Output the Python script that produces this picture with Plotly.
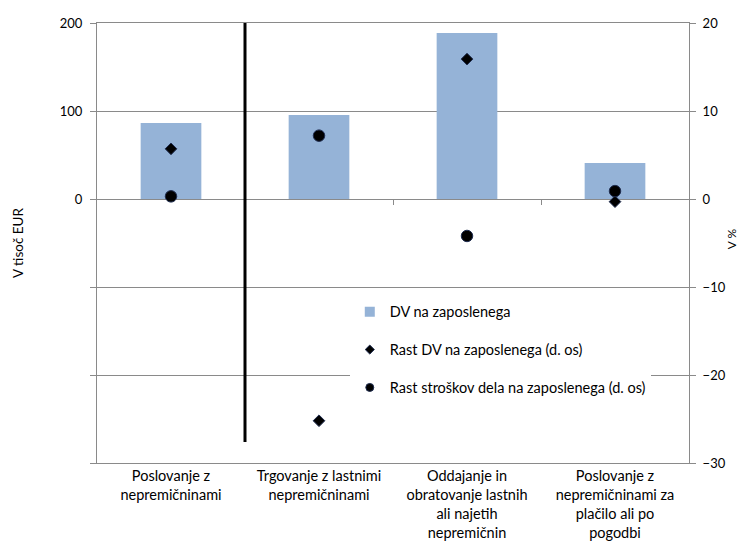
import plotly.graph_objects as go

categories = [
    "Poslovanje z<br>nepremičninami",
    "Trgovanje z lastnimi<br>nepremičninami",
    "Oddajanje in<br>obratovanje lastnih<br>ali najetih<br>nepremičnin",
    "Poslovanje z<br>nepremičninami za<br>plačilo ali po<br>pogodbi",
]
dv_na_zaposlenega = [86.5, 95.5, 188.5, 41]
rast_dv = [5.7, -25.2, 15.9, -0.3]
rast_stroskov = [0.3, 7.2, -4.2, 0.9]

left_ticks = [-300, -200, -100, 0, 100, 200]
left_labels = ["", "", "", "0", "100", "200"]
right_ticks = [-30, -20, -10, 0, 10, 20]
boundary_ticks = [0.5, 1.5, 2.5]

names = ["DV na zaposlenega", "Rast DV na zaposlenega (d. os)",
         "Rast stroškov dela na zaposlenega (d. os)"]

FONT = "Lato, 'Open Sans', sans-serif"
GRID = "#8a8a8a"
BAR = "#95B3D7"
MK_LINE = "#1F2D50"

fig = go.Figure()
fig.add_trace(go.Bar(
    x=categories, y=dv_na_zaposlenega, name=names[0],
    marker=dict(color=BAR, line=dict(width=0)), width=0.41,
    showlegend=False, yaxis="y",
))
fig.add_trace(go.Scatter(
    x=categories, y=rast_dv, name=names[1],
    mode="markers", marker=dict(symbol="diamond", size=9, color="#000000",
                                line=dict(color=MK_LINE, width=1)),
    showlegend=False, yaxis="y2",
))
fig.add_trace(go.Scatter(
    x=categories, y=rast_stroskov, name=names[2],
    mode="markers", marker=dict(symbol="circle", size=11.5, color="#000000",
                                line=dict(color=MK_LINE, width=1)),
    showlegend=False, yaxis="y2",
))

# legend entries (smaller symbols, as in the original legend)
fig.add_trace(go.Scatter(x=[None], y=[None], name=names[0], mode="markers",
                         marker=dict(symbol="square", size=10, color=BAR),
                         legendgroup="a", hoverinfo="skip"))
fig.add_trace(go.Scatter(x=[None], y=[None], name=names[1], mode="markers",
                         marker=dict(symbol="diamond", size=7, color="#000000",
                                     line=dict(color=MK_LINE, width=1)),
                         legendgroup="b", hoverinfo="skip"))
fig.add_trace(go.Scatter(x=[None], y=[None], name=names[2], mode="markers",
                         marker=dict(symbol="circle", size=8, color="#000000",
                                     line=dict(color=MK_LINE, width=1)),
                         legendgroup="c", hoverinfo="skip"))

# transparent trace attached to a second x-axis drawn on the zero line (category boundary ticks)
fig.add_trace(go.Scatter(x=list(range(len(categories))), y=[0] * len(categories),
                         xaxis="x2", yaxis="y", mode="markers",
                         marker=dict(opacity=0), showlegend=False, hoverinfo="skip"))

fig.add_shape(type="line", xref="x", yref="y", x0=0.5, x1=0.5, y0=200, y1=-276,
              line=dict(color="black", width=3))

fig.add_annotation(text="V tisoč EUR", xref="paper", yref="paper", x=-0.1334, y=0.5,
                   xanchor="center", yanchor="middle",
                   textangle=-90, showarrow=False, font=dict(size=13.5))
fig.add_annotation(text="V %", xref="paper", yref="paper", x=1.072, y=0.51,
                   xanchor="center", yanchor="middle",
                   textangle=-90, showarrow=False, font=dict(size=12))

fig.update_layout(
    width=739, height=542,
    margin=dict(l=89, r=58, t=15, b=87),
    paper_bgcolor="white", plot_bgcolor="white",
    font=dict(family=FONT, size=13, color="#000000"),
    showlegend=True,
    legend=dict(x=0.427, y=0.38, xanchor="left", yanchor="top",
                bgcolor="white", font=dict(size=14.5, family=FONT),
                traceorder="grouped", tracegroupgap=16, itemwidth=30),
    xaxis=dict(showgrid=False, showline=True, linecolor=GRID, mirror=True,
               ticks="", tickfont=dict(size=14.5), tickangle=0,
               range=[-0.5, 3.5], automargin=False),
    xaxis2=dict(overlaying="x", anchor="free", position=0.6, type="linear",
                range=[-0.5, 3.5], tickvals=boundary_ticks,
                showgrid=False, showline=False, showticklabels=False,
                zeroline=False, ticks="outside", ticklen=5, tickcolor=GRID,
                automargin=False),
    yaxis=dict(range=[-300, 200], tickvals=left_ticks, ticktext=left_labels,
               showgrid=True, gridcolor=GRID, gridwidth=1, zeroline=False,
               showline=True, linecolor=GRID, ticks="outside", ticklen=6,
               tickcolor=GRID, tickfont=dict(size=13), automargin=False,
               ticklabelstandoff=5),
    yaxis2=dict(range=[-30, 20], tickvals=right_ticks, overlaying="y", side="right",
                showgrid=False, zeroline=False, showline=True, linecolor=GRID,
                ticks="outside", ticklen=6, tickcolor=GRID, tickfont=dict(size=13),
                automargin=False, ticklabelstandoff=4),
)

fig.write_html("out.html")
